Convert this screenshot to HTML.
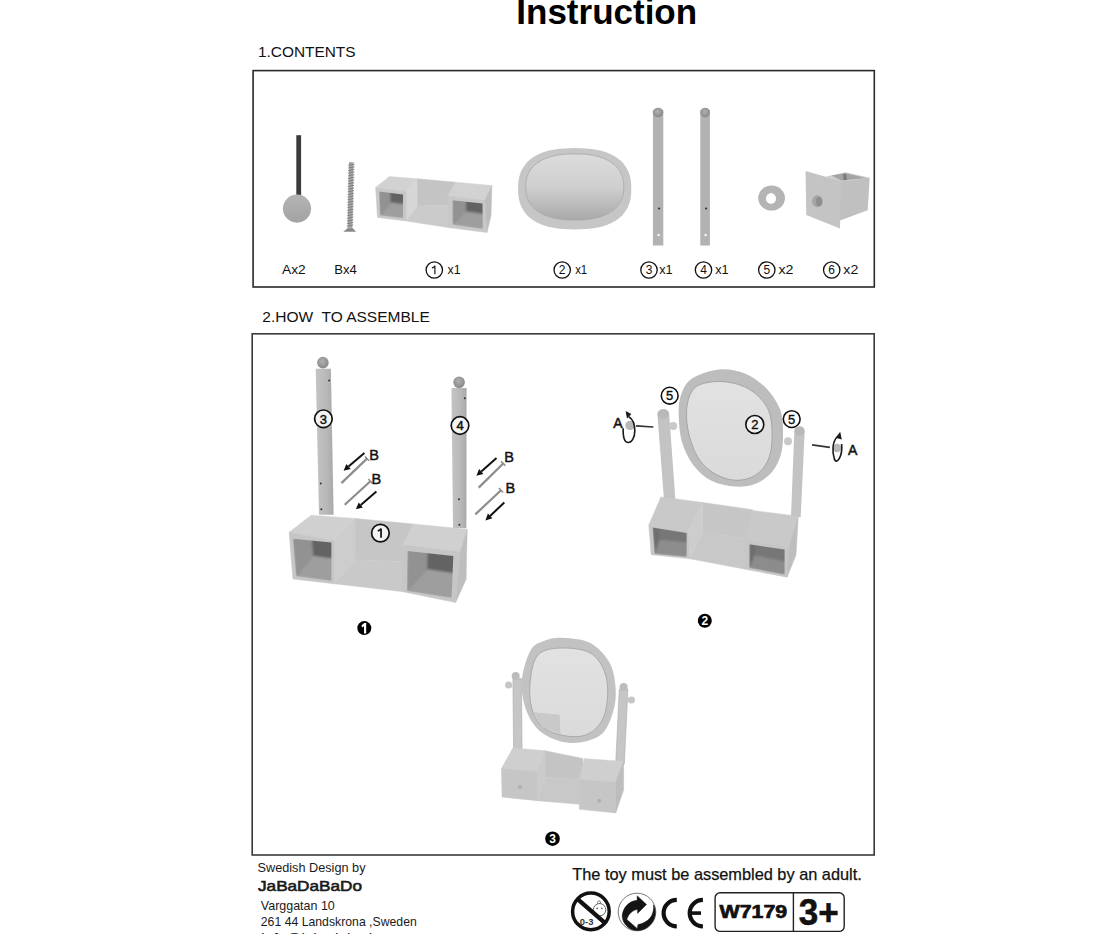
<!DOCTYPE html>
<html><head><meta charset="utf-8"><style>
html,body{margin:0;padding:0;background:#fff;width:1120px;height:934px;overflow:hidden}
svg{position:absolute;left:0;top:0;display:block}
text{font-family:"Liberation Sans",sans-serif}
</style></head><body>
<svg width="1120" height="934" viewBox="0 0 1120 934">
<defs>
<linearGradient id="gmirror" x1="0" y1="0" x2="0" y2="1"><stop offset="0" stop-color="#dcdcdc"/><stop offset="0.5" stop-color="#cfcfcf"/><stop offset="1" stop-color="#a9a9a9"/></linearGradient>
<linearGradient id="gmirror2" x1="0" y1="0" x2="0" y2="1"><stop offset="0" stop-color="#e2e2e2"/><stop offset="1" stop-color="#dadada"/></linearGradient>
<linearGradient id="gopen" x1="0" y1="0" x2="1" y2="1"><stop offset="0" stop-color="#9a9a9a"/><stop offset="0.55" stop-color="#7e7e7e"/><stop offset="1" stop-color="#b4b4b4"/></linearGradient>
<filter id="soft" x="-20%" y="-20%" width="140%" height="140%"><feGaussianBlur stdDeviation="1.3"/></filter>
<linearGradient id="gball" x1="0" y1="0" x2="0" y2="1"><stop offset="0" stop-color="#b4b4b4"/><stop offset="1" stop-color="#a2a2a2"/></linearGradient>
<radialGradient id="gsph" cx="0.45" cy="0.4" r="0.6"><stop offset="0" stop-color="#b0b0b0"/><stop offset="1" stop-color="#888"/></radialGradient>
<linearGradient id="gpole" x1="0" y1="0" x2="1" y2="0"><stop offset="0" stop-color="#c4c4c4"/><stop offset="0.6" stop-color="#b8b8b8"/><stop offset="1" stop-color="#a9a9a9"/></linearGradient>

</defs>
<text x="516.3" y="23.6" font-size="35.00" font-weight="bold" fill="#000" >Instruction</text>
<text x="258.0" y="56.6" font-size="15.40" font-weight="normal" fill="#111" >1.CONTENTS</text>
<text x="262.3" y="322.1" font-size="15.50" font-weight="normal" fill="#111" textLength="167.5" lengthAdjust="spacingAndGlyphs" >2.HOW&#160; TO ASSEMBLE</text>
<rect x="253.1" y="70.6" width="621.2" height="216.4" fill="none" stroke="#2a2a2a" stroke-width="1.6"/>
<rect x="252.2" y="333.8" width="622" height="521.2" fill="none" stroke="#3a3a3a" stroke-width="1.6"/>
<rect x="296.3" y="135.2" width="4.8" height="62" fill="#3c3c3c"/>
<circle cx="297" cy="208.6" r="14.1" fill="url(#gball)"/>
<polygon points="349.0,162.0 353.6,162.3 352.4,228.5 347.6,228.5" fill="#a6a6a6" />
<line x1="348.2" y1="165.3" x2="354.5" y2="164.1" stroke="#7a7a7a" stroke-width="0.9"/>
<line x1="348.2" y1="168.0" x2="354.5" y2="166.8" stroke="#7a7a7a" stroke-width="0.9"/>
<line x1="348.1" y1="170.6" x2="354.4" y2="169.4" stroke="#7a7a7a" stroke-width="0.9"/>
<line x1="348.1" y1="173.2" x2="354.4" y2="172.0" stroke="#7a7a7a" stroke-width="0.9"/>
<line x1="348.0" y1="175.9" x2="354.3" y2="174.7" stroke="#7a7a7a" stroke-width="0.9"/>
<line x1="348.0" y1="178.6" x2="354.3" y2="177.3" stroke="#7a7a7a" stroke-width="0.9"/>
<line x1="347.9" y1="181.2" x2="354.2" y2="180.0" stroke="#7a7a7a" stroke-width="0.9"/>
<line x1="347.8" y1="183.9" x2="354.1" y2="182.7" stroke="#7a7a7a" stroke-width="0.9"/>
<line x1="347.8" y1="186.5" x2="354.1" y2="185.3" stroke="#7a7a7a" stroke-width="0.9"/>
<line x1="347.7" y1="189.2" x2="354.0" y2="187.9" stroke="#7a7a7a" stroke-width="0.9"/>
<line x1="347.7" y1="191.8" x2="354.0" y2="190.6" stroke="#7a7a7a" stroke-width="0.9"/>
<line x1="347.6" y1="194.5" x2="353.9" y2="193.2" stroke="#7a7a7a" stroke-width="0.9"/>
<line x1="347.5" y1="197.1" x2="353.8" y2="195.9" stroke="#7a7a7a" stroke-width="0.9"/>
<line x1="347.5" y1="199.8" x2="353.8" y2="198.5" stroke="#7a7a7a" stroke-width="0.9"/>
<line x1="347.4" y1="202.4" x2="353.7" y2="201.2" stroke="#7a7a7a" stroke-width="0.9"/>
<line x1="347.4" y1="205.1" x2="353.7" y2="203.8" stroke="#7a7a7a" stroke-width="0.9"/>
<line x1="347.3" y1="207.7" x2="353.6" y2="206.5" stroke="#7a7a7a" stroke-width="0.9"/>
<line x1="347.3" y1="210.4" x2="353.6" y2="209.2" stroke="#7a7a7a" stroke-width="0.9"/>
<line x1="347.2" y1="213.0" x2="353.5" y2="211.8" stroke="#7a7a7a" stroke-width="0.9"/>
<line x1="347.1" y1="215.7" x2="353.4" y2="214.4" stroke="#7a7a7a" stroke-width="0.9"/>
<line x1="347.1" y1="218.3" x2="353.4" y2="217.1" stroke="#7a7a7a" stroke-width="0.9"/>
<line x1="347.0" y1="221.0" x2="353.3" y2="219.8" stroke="#7a7a7a" stroke-width="0.9"/>
<line x1="347.0" y1="223.6" x2="353.3" y2="222.4" stroke="#7a7a7a" stroke-width="0.9"/>
<line x1="346.9" y1="226.2" x2="353.2" y2="225.0" stroke="#7a7a7a" stroke-width="0.9"/>
<polygon points="343.3,231.8 356.1,231.8 352.8,228.2 347.4,228.2" fill="#888" />
<polygon points="375.6,187.5 389.4,176.5 417.5,178.8 406.3,191.5" fill="#d2d2d2" stroke="#d2d2d2" stroke-width="0.5" stroke-linejoin="round"/>
<polygon points="406.3,191.5 417.5,178.8 417.5,206.0 406.3,221.0" fill="#d6d6d6" stroke="#d6d6d6" stroke-width="0.5" stroke-linejoin="round"/>
<polygon points="417.5,178.8 455.5,182.2 455.5,205.0 417.5,206.0" fill="#c4c4c4" stroke="#c4c4c4" stroke-width="0.5" stroke-linejoin="round"/>
<polygon points="406.3,221.0 417.5,206.0 455.5,205.0 448.0,227.5" fill="#cbcbcb" stroke="#cbcbcb" stroke-width="0.5" stroke-linejoin="round"/>
<polygon points="375.6,187.5 406.3,191.5 406.3,221.0 377.5,217.5" fill="#c8c8c8" stroke="#c8c8c8" stroke-width="0.5" stroke-linejoin="round"/>
<polygon points="448.0,196.0 455.5,182.2 491.9,185.6 485.0,200.0" fill="#d2d2d2" stroke="#d2d2d2" stroke-width="0.5" stroke-linejoin="round"/>
<polygon points="448.0,196.0 485.0,200.0 486.9,232.5 448.0,227.5" fill="#c8c8c8" stroke="#c8c8c8" stroke-width="0.5" stroke-linejoin="round"/>
<polygon points="485.0,200.0 491.9,185.6 491.0,216.0 486.9,232.5" fill="#bdbdbd" stroke="#bdbdbd" stroke-width="0.5" stroke-linejoin="round"/>
<clipPath id="op1"><polygon points="379.0,191.6 403.0,194.6 403.0,218.2 380.0,215.6"/></clipPath><g clip-path="url(#op1)"><g filter="url(#soft)"><polygon points="379.0,191.6 403.0,194.6 403.0,218.2 380.0,215.6" fill="#6a6a6a" /><polygon points="379.0,191.6 389.8,178.4 390.8,202.4 380.0,215.6" fill="#929292" /><polygon points="380.0,215.6 390.8,202.4 413.8,205.0 403.0,218.2" fill="#9e9e9e" /><polygon points="389.8,178.4 413.8,181.4 413.8,205.0 390.8,202.4" fill="#636363" /></g></g>
<clipPath id="op2"><polygon points="452.5,200.2 482.5,203.6 482.8,229.0 452.5,224.8"/></clipPath><g clip-path="url(#op2)"><g filter="url(#soft)"><polygon points="452.5,200.2 482.5,203.6 482.8,229.0 452.5,224.8" fill="#6a6a6a" /><polygon points="452.5,200.2 466.0,186.7 466.0,211.3 452.5,224.8" fill="#929292" /><polygon points="452.5,224.8 466.0,211.3 496.3,215.5 482.8,229.0" fill="#9e9e9e" /><polygon points="466.0,186.7 496.0,190.1 496.3,215.5 466.0,211.3" fill="#636363" /></g></g>
<path d="M631.3,188.8 L631.2,193.1 L630.9,196.5 L630.4,199.5 L629.7,202.2 L628.8,204.8 L627.8,207.3 L626.5,209.6 L625.0,211.8 L623.4,213.9 L621.6,215.9 L619.5,217.7 L617.4,219.4 L615.0,221.0 L612.4,222.4 L609.7,223.7 L606.8,224.9 L603.8,225.9 L600.5,226.9 L597.1,227.6 L593.5,228.3 L589.6,228.8 L585.4,229.1 L580.8,229.3 L574.7,229.4 L568.6,229.3 L564.0,229.1 L559.8,228.8 L555.9,228.3 L552.3,227.6 L548.9,226.9 L545.6,225.9 L542.6,224.9 L539.7,223.7 L537.0,222.4 L534.4,221.0 L532.0,219.4 L529.9,217.7 L527.8,215.9 L526.0,213.9 L524.4,211.8 L522.9,209.6 L521.6,207.3 L520.6,204.8 L519.7,202.2 L519.0,199.5 L518.5,196.5 L518.2,193.1 L518.1,188.8 L518.2,184.4 L518.5,181.0 L519.0,178.0 L519.7,175.3 L520.6,172.7 L521.6,170.2 L522.9,167.9 L524.4,165.7 L526.0,163.6 L527.8,161.6 L529.9,159.8 L532.0,158.1 L534.4,156.5 L537.0,155.1 L539.7,153.8 L542.6,152.6 L545.6,151.6 L548.9,150.6 L552.3,149.9 L555.9,149.2 L559.8,148.7 L564.0,148.4 L568.6,148.2 L574.7,148.1 L580.8,148.2 L585.4,148.4 L589.6,148.7 L593.5,149.2 L597.1,149.9 L600.5,150.6 L603.8,151.6 L606.8,152.6 L609.7,153.8 L612.4,155.1 L615.0,156.5 L617.4,158.1 L619.5,159.8 L621.6,161.6 L623.4,163.6 L625.0,165.7 L626.5,167.9 L627.8,170.2 L628.8,172.7 L629.7,175.3 L630.4,178.0 L630.9,181.0 L631.2,184.4Z" fill="#c6c6c6"/>
<path d="M623.8,187.0 L623.7,190.2 L623.4,192.9 L622.9,195.2 L622.3,197.5 L621.5,199.6 L620.6,201.6 L619.4,203.5 L618.1,205.3 L616.6,207.1 L615.0,208.7 L613.2,210.2 L611.2,211.6 L609.1,213.0 L606.9,214.2 L604.5,215.3 L601.9,216.3 L599.2,217.2 L596.4,217.9 L593.4,218.6 L590.3,219.1 L586.9,219.6 L583.4,219.9 L579.6,220.0 L574.8,220.1 L569.9,220.0 L566.1,219.9 L562.6,219.6 L559.2,219.1 L556.1,218.6 L553.1,217.9 L550.3,217.2 L547.6,216.3 L545.0,215.3 L542.6,214.2 L540.4,213.0 L538.3,211.6 L536.3,210.2 L534.5,208.7 L532.9,207.1 L531.4,205.3 L530.1,203.5 L528.9,201.6 L528.0,199.6 L527.2,197.5 L526.6,195.2 L526.1,192.9 L525.8,190.2 L525.8,187.0 L525.8,183.8 L526.1,181.1 L526.6,178.8 L527.2,176.5 L528.0,174.4 L528.9,172.4 L530.1,170.5 L531.4,168.7 L532.9,166.9 L534.5,165.3 L536.3,163.8 L538.3,162.4 L540.4,161.0 L542.6,159.8 L545.0,158.7 L547.6,157.7 L550.3,156.8 L553.1,156.1 L556.1,155.4 L559.2,154.9 L562.6,154.4 L566.1,154.1 L569.9,154.0 L574.7,153.9 L579.6,154.0 L583.4,154.1 L586.9,154.4 L590.3,154.9 L593.4,155.4 L596.4,156.1 L599.2,156.8 L601.9,157.7 L604.5,158.7 L606.9,159.8 L609.1,161.0 L611.2,162.4 L613.2,163.8 L615.0,165.3 L616.6,166.9 L618.1,168.7 L619.4,170.5 L620.6,172.4 L621.5,174.4 L622.3,176.5 L622.9,178.8 L623.4,181.1 L623.7,183.8Z" fill="url(#gmirror)" stroke="#a8a8a8" stroke-width="0.8"/>
<rect x="652.9" y="110" width="10.4" height="135.5" fill="#b2b2b2"/>
<ellipse cx="658.1" cy="112.5" rx="5.2" ry="4.8" fill="url(#gsph)"/>
<circle cx="659.1" cy="208.5" r="1.1" fill="#333"/>
<circle cx="658.6" cy="235" r="1.3" fill="#f4f4f4"/>
<rect x="700.3" y="110" width="9.6" height="135.5" fill="#b2b2b2"/>
<ellipse cx="705.1" cy="112.5" rx="4.8" ry="4.8" fill="url(#gsph)"/>
<circle cx="706.1" cy="208.5" r="1.1" fill="#333"/>
<circle cx="705.6" cy="235" r="1.3" fill="#f4f4f4"/>
<ellipse cx="771.6" cy="198.1" rx="13.4" ry="12.5" fill="#b4b4b4"/>
<ellipse cx="771" cy="198.4" rx="5" ry="5.3" fill="#fff"/>
<polygon points="836.0,180.0 869.7,177.8 867.7,210.3 836.0,222.0" fill="#c0c0c0" />
<polygon points="826.0,176.5 845.5,172.3 869.7,177.8 840.8,182.0" fill="#cdcdcd" />
<polygon points="831.5,175.6 845.5,173.3 866.0,178.0 841.5,180.5" fill="#a4a4a4" />
<polygon points="843.0,174.0 846.0,173.5 847.0,180.0 843.5,180.3" fill="#7c7c7c" />
<polygon points="805.5,171.1 840.8,181.0 840.0,228.5 806.3,215.1" fill="#c4c4c4" />
<ellipse cx="817.4" cy="201.2" rx="5.3" ry="6" fill="#a4a4a4"/>
<ellipse cx="819" cy="201.5" rx="3" ry="4.5" fill="#8e8e8e"/>
<text x="282.0" y="273.8" font-size="13.20" font-weight="normal" fill="#111" textLength="23.6" lengthAdjust="spacingAndGlyphs" >Ax2</text>
<text x="334.2" y="273.8" font-size="13.20" font-weight="normal" fill="#111" textLength="22.6" lengthAdjust="spacingAndGlyphs" >Bx4</text>
<circle cx="434.3" cy="270.0" r="8.2" fill="#fff" stroke="#111" stroke-width="1.30"/><path d="M434.90,265.73 L434.90,274.32 M431.90,268.13 C433.34,267.53 434.66,266.69 434.90,265.73" fill="none" stroke="#111" stroke-width="1.14"/>
<text x="447.5" y="273.8" font-size="13.20" font-weight="normal" fill="#111" textLength="13.0" lengthAdjust="spacingAndGlyphs" >x1</text>
<circle cx="562.2" cy="270.0" r="8.2" fill="#fff" stroke="#111" stroke-width="1.30"/><text x="562.2" y="274.3" font-size="12.0" text-anchor="middle" fill="#111" stroke="#111" stroke-width="0.00">2</text>
<text x="575.2" y="273.8" font-size="13.20" font-weight="normal" fill="#111" textLength="12.0" lengthAdjust="spacingAndGlyphs" >x1</text>
<circle cx="649.0" cy="270.0" r="8.2" fill="#fff" stroke="#111" stroke-width="1.30"/><text x="649.0" y="274.3" font-size="12.0" text-anchor="middle" fill="#111" stroke="#111" stroke-width="0.00">3</text>
<text x="659.2" y="273.8" font-size="13.20" font-weight="normal" fill="#111" textLength="13.5" lengthAdjust="spacingAndGlyphs" >x1</text>
<circle cx="703.5" cy="270.0" r="8.2" fill="#fff" stroke="#111" stroke-width="1.30"/><text x="703.5" y="274.3" font-size="12.0" text-anchor="middle" fill="#111" stroke="#111" stroke-width="0.00">4</text>
<text x="715.2" y="273.8" font-size="13.20" font-weight="normal" fill="#111" textLength="13.5" lengthAdjust="spacingAndGlyphs" >x1</text>
<circle cx="766.8" cy="270.0" r="8.2" fill="#fff" stroke="#111" stroke-width="1.30"/><text x="766.8" y="274.3" font-size="12.0" text-anchor="middle" fill="#111" stroke="#111" stroke-width="0.00">5</text>
<text x="778.5" y="273.8" font-size="13.20" font-weight="normal" fill="#111" textLength="15.0" lengthAdjust="spacingAndGlyphs" >x2</text>
<circle cx="831.7" cy="270.0" r="8.2" fill="#fff" stroke="#111" stroke-width="1.30"/><text x="831.7" y="274.3" font-size="12.0" text-anchor="middle" fill="#111" stroke="#111" stroke-width="0.00">6</text>
<text x="843.3" y="273.8" font-size="13.20" font-weight="normal" fill="#111" textLength="15.0" lengthAdjust="spacingAndGlyphs" >x2</text>
<polygon points="315.7,368.8 330.9,368.8 333.6,514.8 319.0,514.8" fill="url(#gpole)" />
<circle cx="322.9" cy="362.6" r="5.8" fill="url(#gsph)"/>
<polygon points="451.4,387.9 466.6,387.9 466.4,528.2 453.0,528.2" fill="url(#gpole)" />
<circle cx="459.1" cy="382.3" r="5.8" fill="url(#gsph)"/>
<circle cx="329.1" cy="380.4" r="1.0" fill="#333"/>
<circle cx="320.8" cy="483.6" r="1.0" fill="#333"/>
<circle cx="321.3" cy="509.2" r="1.0" fill="#333"/>
<circle cx="464.8" cy="398.2" r="1.0" fill="#333"/>
<circle cx="459.0" cy="499.2" r="1.0" fill="#333"/>
<circle cx="459.4" cy="524.8" r="1.0" fill="#333"/>
<circle cx="323.4" cy="418.8" r="8.8" fill="#f4f4f4" stroke="#111" stroke-width="1.70"/><text x="323.4" y="423.5" font-size="13.0" text-anchor="middle" fill="#111" stroke="#111" stroke-width="0.45">3</text>
<circle cx="460.0" cy="425.5" r="8.8" fill="#f4f4f4" stroke="#111" stroke-width="1.70"/><text x="460.0" y="430.2" font-size="13.0" text-anchor="middle" fill="#111" stroke="#111" stroke-width="0.45">4</text>
<polygon points="355.0,518.4 413.3,524.0 413.3,562.0 355.0,559.7" fill="#c6c6c6" stroke="#c6c6c6" stroke-width="0.5" stroke-linejoin="round"/>
<polygon points="334.1,583.8 355.0,559.7 413.3,562.0 401.7,591.5" fill="#c9c9c9" stroke="#c9c9c9" stroke-width="0.5" stroke-linejoin="round"/>
<polygon points="289.1,532.3 311.1,515.2 355.0,518.4 334.1,540.4" fill="#d0d0d0" stroke="#d0d0d0" stroke-width="0.5" stroke-linejoin="round"/>
<polygon points="334.1,540.4 355.0,518.4 355.0,559.7 334.1,583.8" fill="#cdcdcd" stroke="#cdcdcd" stroke-width="0.5" stroke-linejoin="round"/>
<polygon points="289.1,532.3 334.1,540.4 334.1,583.8 292.9,578.9" fill="#c6c6c6" stroke="#c6c6c6" stroke-width="0.5" stroke-linejoin="round"/>
<polygon points="402.8,545.0 413.3,524.0 467.2,529.3 460.3,551.4" fill="#d0d0d0" stroke="#d0d0d0" stroke-width="0.5" stroke-linejoin="round"/>
<polygon points="402.8,545.0 460.3,551.4 455.6,602.5 401.7,591.5" fill="#c6c6c6" stroke="#c6c6c6" stroke-width="0.5" stroke-linejoin="round"/>
<polygon points="460.3,551.4 467.2,529.3 466.1,579.3 455.6,602.5" fill="#bebebe" stroke="#bebebe" stroke-width="0.5" stroke-linejoin="round"/>
<clipPath id="op3"><polygon points="292.9,538.8 331.4,542.5 331.4,581.1 296.1,576.3"/></clipPath><g clip-path="url(#op3)"><g filter="url(#soft)"><polygon points="292.9,538.8 331.4,542.5 331.4,581.1 296.1,576.3" fill="#6a6a6a" /><polygon points="292.9,538.8 310.2,518.2 313.4,555.7 296.1,576.3" fill="#929292" /><polygon points="296.1,576.3 313.4,555.7 348.7,560.5 331.4,581.1" fill="#9e9e9e" /><polygon points="310.2,518.2 348.7,521.9 348.7,560.5 313.4,555.7" fill="#636363" /></g></g>
<clipPath id="op4"><polygon points="407.5,550.9 453.3,556.1 451.6,597.9 406.9,590.9"/></clipPath><g clip-path="url(#op4)"><g filter="url(#soft)"><polygon points="407.5,550.9 453.3,556.1 451.6,597.9 406.9,590.9" fill="#6a6a6a" /><polygon points="407.5,550.9 428.1,528.9 427.5,568.9 406.9,590.9" fill="#929292" /><polygon points="406.9,590.9 427.5,568.9 472.2,575.9 451.6,597.9" fill="#9e9e9e" /><polygon points="428.1,528.9 473.9,534.1 472.2,575.9 427.5,568.9" fill="#636363" /></g></g>
<circle cx="380.4" cy="533.1" r="8.8" fill="#f2f2f2" stroke="#111" stroke-width="1.70"/><path d="M381.05,528.47 L381.05,537.78 M377.80,531.07 C379.36,530.42 380.79,529.51 381.05,528.47" fill="none" stroke="#111" stroke-width="1.69"/>
<line x1="364.4" y1="453.0" x2="348.5" y2="466.6" stroke="#111" stroke-width="2.0"/><polygon points="343.6,470.8 346.4,464.1 350.7,469.0" fill="#111" />
<line x1="367.0" y1="458.6" x2="341.4" y2="483.1" stroke="#8c8c8c" stroke-width="2.2"/><line x1="364.9" y1="456.4" x2="369.1" y2="460.8" stroke="#8c8c8c" stroke-width="1.5"/>
<line x1="370.4" y1="481.3" x2="344.7" y2="504.8" stroke="#8c8c8c" stroke-width="2.2"/><line x1="368.4" y1="479.1" x2="372.4" y2="483.5" stroke="#8c8c8c" stroke-width="1.5"/>
<line x1="376.4" y1="491.4" x2="360.8" y2="504.9" stroke="#111" stroke-width="2.0"/><polygon points="355.9,509.2 358.7,502.5 362.9,507.4" fill="#111" />
<text x="369.3" y="459.7" font-size="14.50" font-weight="normal" fill="#111" stroke="#111" stroke-width="0.45">B</text>
<text x="371.5" y="483.6" font-size="14.50" font-weight="normal" fill="#111" stroke="#111" stroke-width="0.45">B</text>
<line x1="496.5" y1="457.9" x2="481.3" y2="471.5" stroke="#111" stroke-width="2.0"/><polygon points="476.4,475.8 479.1,469.1 483.4,473.9" fill="#111" />
<line x1="503.2" y1="463.5" x2="478.7" y2="487.6" stroke="#8c8c8c" stroke-width="2.2"/><line x1="501.1" y1="461.4" x2="505.3" y2="465.6" stroke="#8c8c8c" stroke-width="1.5"/>
<line x1="501.0" y1="490.3" x2="475.3" y2="514.4" stroke="#8c8c8c" stroke-width="2.2"/><line x1="498.9" y1="488.1" x2="503.1" y2="492.5" stroke="#8c8c8c" stroke-width="1.5"/>
<line x1="504.3" y1="502.5" x2="490.1" y2="515.9" stroke="#111" stroke-width="2.0"/><polygon points="485.4,520.4 487.9,513.6 492.4,518.3" fill="#111" />
<text x="504.3" y="462.4" font-size="14.50" font-weight="normal" fill="#111" stroke="#111" stroke-width="0.45">B</text>
<text x="505.4" y="492.5" font-size="14.50" font-weight="normal" fill="#111" stroke="#111" stroke-width="0.45">B</text>
<circle cx="364.3" cy="628.1" r="7.0" fill="#000"/>
<path d="M361.4,625.6 L364.2,623.0 L366.2,623.0 L366.2,633.4 L364.0,633.4 L364.0,626.2 L362.2,627.4 Z" fill="#fff"/>
<polygon points="657.4,414.0 669.2,414.0 675.4,500.0 664.0,500.0" fill="#c3c3c3" />
<ellipse cx="663.3" cy="414" rx="5.9" ry="5" fill="#b9b9b9"/>
<polygon points="794.3,431.0 804.7,431.0 800.7,517.0 791.0,517.0" fill="#c3c3c3" />
<ellipse cx="799.5" cy="431" rx="5.2" ry="4.8" fill="#b9b9b9"/>
<polygon points="702.7,502.5 752.5,509.7 752.5,540.0 702.7,531.4" fill="#c6c6c6" stroke="#c6c6c6" stroke-width="0.5" stroke-linejoin="round"/>
<polygon points="690.0,558.8 702.7,531.4 752.5,540.0 745.3,569.2" fill="#c8c8c8" stroke="#c8c8c8" stroke-width="0.5" stroke-linejoin="round"/>
<polygon points="648.8,525.0 660.9,496.9 702.7,502.5 688.2,531.4" fill="#c9c9c9" stroke="#c9c9c9" stroke-width="0.5" stroke-linejoin="round"/>
<polygon points="688.2,531.4 702.7,502.5 702.7,531.4 690.0,558.8" fill="#cdcdcd" stroke="#cdcdcd" stroke-width="0.5" stroke-linejoin="round"/>
<polygon points="648.8,525.0 688.2,531.4 690.0,558.8 651.2,554.7" fill="#c6c6c6" stroke="#c6c6c6" stroke-width="0.5" stroke-linejoin="round"/>
<polygon points="745.3,540.3 752.5,510.5 798.3,516.2 788.7,546.7" fill="#c9c9c9" stroke="#c9c9c9" stroke-width="0.5" stroke-linejoin="round"/>
<polygon points="745.3,540.3 788.7,546.7 787.0,577.2 745.3,569.2" fill="#c6c6c6" stroke="#c6c6c6" stroke-width="0.5" stroke-linejoin="round"/>
<polygon points="788.7,546.7 798.3,516.2 796.0,555.0 787.0,577.2" fill="#bebebe" stroke="#bebebe" stroke-width="0.5" stroke-linejoin="round"/>
<clipPath id="op5"><polygon points="652.5,527.4 686.6,533.0 686.6,557.1 654.5,553.9"/></clipPath><g clip-path="url(#op5)"><g filter="url(#soft)"><polygon points="652.5,527.4 686.6,533.0 686.6,557.1 654.5,553.9" fill="#5e5e5e" /><polygon points="652.5,527.4 657.6,512.8 659.6,539.3 654.5,553.9" fill="#6e6e6e" /><polygon points="654.5,553.9 659.6,539.3 691.7,542.5 686.6,557.1" fill="#8c8c8c" /><polygon points="657.6,512.8 691.7,518.4 691.7,542.5 659.6,539.3" fill="#777777" /></g></g>
<clipPath id="op6"><polygon points="749.3,544.3 784.6,549.4 784.6,574.8 749.3,568.0"/></clipPath><g clip-path="url(#op6)"><g filter="url(#soft)"><polygon points="749.3,544.3 784.6,549.4 784.6,574.8 749.3,568.0" fill="#5e5e5e" /><polygon points="749.3,544.3 754.6,531.3 754.6,555.0 749.3,568.0" fill="#6e6e6e" /><polygon points="749.3,568.0 754.6,555.0 789.9,561.8 784.6,574.8" fill="#8c8c8c" /><polygon points="754.6,531.3 789.9,536.4 789.9,561.8 754.6,555.0" fill="#777777" /></g></g>
<path d="M719.2,369.4 C728.0,368.6 737.2,370.4 745.0,373.5 C752.8,376.6 760.3,382.4 766.0,388.0 C771.7,393.6 776.2,400.8 779.0,407.0 C781.8,413.2 782.4,417.5 782.8,425.0 C783.2,432.5 783.3,444.2 781.5,452.0 C779.7,459.8 776.4,466.7 772.0,472.0 C767.6,477.3 761.2,481.6 755.0,484.0 C748.8,486.4 742.2,487.0 735.0,486.5 C727.8,486.0 718.8,484.4 712.0,481.0 C705.2,477.6 699.0,472.5 694.0,466.0 C689.0,459.5 684.5,450.5 682.0,442.0 C679.5,433.5 678.9,422.8 678.7,415.0 C678.5,407.2 678.8,401.1 681.0,395.0 C683.2,388.9 685.6,382.8 692.0,378.5 C698.4,374.2 710.4,370.2 719.2,369.4Z" fill="#bdbdbd"/>
<path d="M713.4,381.7 C720.1,381.0 728.6,381.9 735.0,383.5 C741.4,385.1 747.0,387.6 752.0,391.0 C757.0,394.4 761.8,399.2 765.0,404.0 C768.2,408.8 770.1,412.8 771.2,420.0 C772.3,427.2 772.5,439.3 771.5,447.0 C770.5,454.7 768.4,460.9 765.0,466.0 C761.6,471.1 756.5,475.2 751.0,477.5 C745.5,479.8 738.7,480.9 732.2,480.0 C725.7,479.1 717.9,476.0 712.0,472.0 C706.1,468.0 701.0,463.0 697.0,456.0 C693.0,449.0 689.6,438.5 688.0,430.0 C686.4,421.5 686.0,412.1 687.2,405.0 C688.4,397.9 690.6,391.4 695.0,387.5 C699.4,383.6 706.7,382.4 713.4,381.7Z" fill="url(#gmirror2)" stroke="#a0a0a0" stroke-width="0.9"/>
<circle cx="673.2" cy="426.1" r="4" fill="#c9c9c9"/>
<circle cx="788" cy="441.2" r="4" fill="#c9c9c9"/>
<line x1="636" y1="425.9" x2="653.3" y2="427" stroke="#333" stroke-width="1.6"/>
<circle cx="630.0" cy="425.4" r="4.7" fill="#b8b8b8"/>
<line x1="812.1" y1="444.9" x2="829.9" y2="447.4" stroke="#333" stroke-width="1.6"/>
<circle cx="837" cy="448" r="4.3" fill="#b8b8b8"/>
<path d="M628.8,416.8 C632.5,419 634.8,424 634.8,431 C634.8,438 631.5,442.5 628.3,442.5 C624.5,442.5 622.8,437 623.2,428.2" fill="none" stroke="#1a1a1a" stroke-width="1.6"/>
<polygon points="625.6,411.0 631.4,414.0 627.0,418.4" fill="#1a1a1a" />
<path d="M837.3,437 C832.5,441 831.8,452 834.5,459.5 C837.5,465 842.8,455 841.6,444" fill="none" stroke="#1a1a1a" stroke-width="1.6"/>
<polygon points="840.2,431.8 841.8,439.6 835.6,437.8" fill="#1a1a1a" />
<text x="613.3" y="428.3" font-size="14.00" font-weight="normal" fill="#111" stroke="#111" stroke-width="0.5">A</text>
<text x="848.0" y="454.8" font-size="14.00" font-weight="normal" fill="#111" stroke="#111" stroke-width="0.5">A</text>
<circle cx="669.7" cy="395.7" r="8.4" fill="#fff" stroke="#111" stroke-width="1.60"/><text x="669.7" y="400.4" font-size="13.0" text-anchor="middle" fill="#111" stroke="#111" stroke-width="0.40">5</text>
<circle cx="791.7" cy="419.1" r="8.4" fill="#fff" stroke="#111" stroke-width="1.60"/><text x="791.7" y="423.8" font-size="13.0" text-anchor="middle" fill="#111" stroke="#111" stroke-width="0.40">5</text>
<circle cx="754.8" cy="424.5" r="9.0" fill="#f2f2f2" stroke="#111" stroke-width="1.60"/><text x="754.8" y="429.2" font-size="13.0" text-anchor="middle" fill="#111" stroke="#111" stroke-width="0.40">2</text>
<circle cx="704.8" cy="620.8" r="7.0" fill="#000"/><text x="704.8" y="625.1" font-size="12.0" font-weight="bold" text-anchor="middle" fill="#fff">2</text>
<polygon points="512.9,678.6 521.4,678.6 522.1,752.0 513.6,752.0" fill="#c6c6c6" stroke="#aaa" stroke-width="0.6"/>
<circle cx="515.7" cy="676" r="4" fill="#bcbcbc"/>
<circle cx="508.6" cy="685" r="3.6" fill="#c6c6c6"/>
<polygon points="619.3,689.3 627.9,689.3 624.3,764.0 615.7,764.0" fill="#c6c6c6" stroke="#aaa" stroke-width="0.6"/>
<circle cx="623.6" cy="687.1" r="4" fill="#bcbcbc"/>
<circle cx="631.4" cy="700" r="3.6" fill="#c6c6c6"/>
<path d="M561.6,637.7 C569.2,638.0 582.0,638.7 589.9,642.8 C597.8,646.9 604.9,654.6 609.2,662.1 C613.5,669.6 615.0,679.4 615.6,687.8 C616.2,696.1 615.6,704.3 613.0,712.2 C610.4,720.1 607.1,730.2 600.2,735.3 C593.4,740.4 581.3,743.2 571.9,743.0 C562.5,742.8 551.2,739.1 543.7,734.0 C536.2,728.9 530.6,721.0 527.0,712.2 C523.4,703.4 521.2,691.7 521.8,681.4 C522.4,671.1 526.7,657.3 530.5,650.5 C534.3,643.7 539.3,642.9 544.5,640.8 C549.7,638.7 554.0,637.4 561.6,637.7Z" fill="#c2c2c2"/>
<path d="M564.2,648.0 C573.2,648.0 585.4,649.3 592.5,654.4 C599.6,659.5 604.5,669.2 606.6,678.8 C608.7,688.4 607.6,703.4 605.3,712.2 C602.9,721.0 598.1,727.4 592.5,731.5 C586.9,735.6 579.8,737.0 571.9,736.6 C564.0,736.2 551.6,733.4 545.0,728.9 C538.4,724.4 534.6,717.5 532.1,709.6 C529.6,701.7 529.1,690.6 530.2,681.4 C531.3,672.2 532.8,660.0 538.5,654.4 C544.2,648.8 555.2,648.0 564.2,648.0Z" fill="url(#gmirror2)" stroke="#a5a5a5" stroke-width="0.9"/>
<polygon points="533.4,712.2 559.7,714.8 560.4,734.0 542.4,727.6" fill="#c9c9c9" />
<polygon points="545.0,750.7 582.9,758.6 582.9,780.0 545.0,777.1" fill="#c4c4c4" stroke="#c4c4c4" stroke-width="0.5" stroke-linejoin="round"/>
<polygon points="537.1,800.7 545.0,777.1 582.9,780.0 579.3,804.3" fill="#c8c8c8" stroke="#c8c8c8" stroke-width="0.5" stroke-linejoin="round"/>
<polygon points="501.4,768.6 512.9,747.9 545.0,750.7 537.1,771.4" fill="#cfcfcf" stroke="#cfcfcf" stroke-width="0.5" stroke-linejoin="round"/>
<polygon points="537.1,771.4 545.0,750.7 545.0,777.1 537.1,800.7" fill="#cbcbcb" stroke="#cbcbcb" stroke-width="0.5" stroke-linejoin="round"/>
<polygon points="501.4,768.6 537.1,771.4 537.1,800.7 502.1,797.1" fill="#c6c6c6" stroke="#c6c6c6" stroke-width="0.5" stroke-linejoin="round"/>
<polygon points="579.3,779.3 584.3,758.6 623.6,761.4 615.7,782.0" fill="#cfcfcf" stroke="#cfcfcf" stroke-width="0.5" stroke-linejoin="round"/>
<polygon points="579.3,779.3 615.7,782.0 615.7,812.9 579.3,809.3" fill="#c6c6c6" stroke="#c6c6c6" stroke-width="0.5" stroke-linejoin="round"/>
<polygon points="615.7,782.0 623.6,761.4 623.6,790.0 615.7,812.9" fill="#bdbdbd" stroke="#bdbdbd" stroke-width="0.5" stroke-linejoin="round"/>
<circle cx="520" cy="787" r="2" fill="#b0b0b0"/>
<circle cx="599.3" cy="800.7" r="2" fill="#b0b0b0"/>
<circle cx="552.5" cy="838.7" r="7.3" fill="#000"/><text x="552.5" y="843.0" font-size="12.0" font-weight="bold" text-anchor="middle" fill="#fff">3</text>
<text x="257.5" y="871.8" font-size="13.40" font-weight="normal" fill="#1a1a1a" textLength="108.0" lengthAdjust="spacingAndGlyphs" >Swedish Design by</text>
<text x="258.0" y="891.4" font-size="15.20" font-weight="normal" fill="#1a1a1a" textLength="104.0" lengthAdjust="spacingAndGlyphs" stroke="#1a1a1a" stroke-width="0.6">JaBaDaBaDo</text>
<text x="260.8" y="910.1" font-size="12.20" font-weight="normal" fill="#1a1a1a" textLength="74.0" lengthAdjust="spacingAndGlyphs" >Varggatan 10</text>
<text x="260.8" y="926.1" font-size="12.20" font-weight="normal" fill="#1a1a1a" textLength="156.0" lengthAdjust="spacingAndGlyphs" >261 44 Landskrona ,Sweden</text>
<text x="260.8" y="942.0" font-size="12.20" font-weight="normal" fill="#1a1a1a" textLength="140.0" lengthAdjust="spacingAndGlyphs" >Info@jabadabado.se</text>
<text x="572.3" y="880.0" font-size="16.20" font-weight="normal" fill="#111" textLength="289.5" lengthAdjust="spacingAndGlyphs" stroke="#111" stroke-width="0.25">The toy must be assembled by an adult.</text>
<circle cx="590.9" cy="911.4" r="18.3" fill="#fff" stroke="#111" stroke-width="3.5"/>
<circle cx="599.6" cy="909.7" r="6.2" fill="none" stroke="#666" stroke-width="1"/>
<path d="M597.5,903.5 C597,901 600,900 600.5,902 C601,903.5 599,904 598.8,903" fill="none" stroke="#666" stroke-width="0.9"/>
<circle cx="597.2" cy="908.4" r="0.8" fill="#555"/><circle cx="601.8" cy="908.4" r="0.8" fill="#555"/>
<line x1="577.6" y1="899.1" x2="604.6" y2="922.7" stroke="#111" stroke-width="4.3"/>
<text x="579.8" y="924.6" font-size="9.50" font-weight="bold" fill="#333" textLength="13.6" lengthAdjust="spacingAndGlyphs" >0-3</text>
<circle cx="637.0" cy="912.0" r="18.8" fill="#fff" stroke="#555" stroke-width="0.8"/>
<g transform="translate(617,892) scale(0.04283)" fill="#141414" stroke="#141414" stroke-width="10" stroke-linejoin="round"><path d="M120,560 C130,380 280,200 470,195 L470,90 L690,290 L480,500 L480,410 C360,420 270,520 230,640 Z"/><path d="M120,560 C130,760 300,900 470,900 C700,900 900,700 895,470 C893,400 880,340 850,300 C870,480 800,700 490,760 L470,850 L230,640 Z"/></g>
<path d="M676.8,899.9 A13,13 0 0 0 676.8,926.3" fill="none" stroke="#111" stroke-width="4.2"/>
<path d="M702.9,899.9 A13,13 0 0 0 702.9,926.3" fill="none" stroke="#111" stroke-width="4.2"/>
<line x1="690" y1="913.1" x2="701" y2="913.1" stroke="#111" stroke-width="3.6"/>
<rect x="715.1" y="892.7" width="129.1" height="38.7" rx="5" fill="#fff" stroke="#222" stroke-width="1.4"/>
<line x1="793.4" y1="892.7" x2="793.4" y2="931.4" stroke="#222" stroke-width="1.4"/>
<text x="719.6" y="917.8" font-size="18.00" font-weight="bold" fill="#111" textLength="67.5" lengthAdjust="spacingAndGlyphs" stroke="#111" stroke-width="0.7">W7179</text>
<text x="798.8" y="924.6" font-size="37.50" font-weight="bold" fill="#111" textLength="40.0" lengthAdjust="spacingAndGlyphs" stroke="#111" stroke-width="0.5">3+</text>
</svg>
</body></html>
